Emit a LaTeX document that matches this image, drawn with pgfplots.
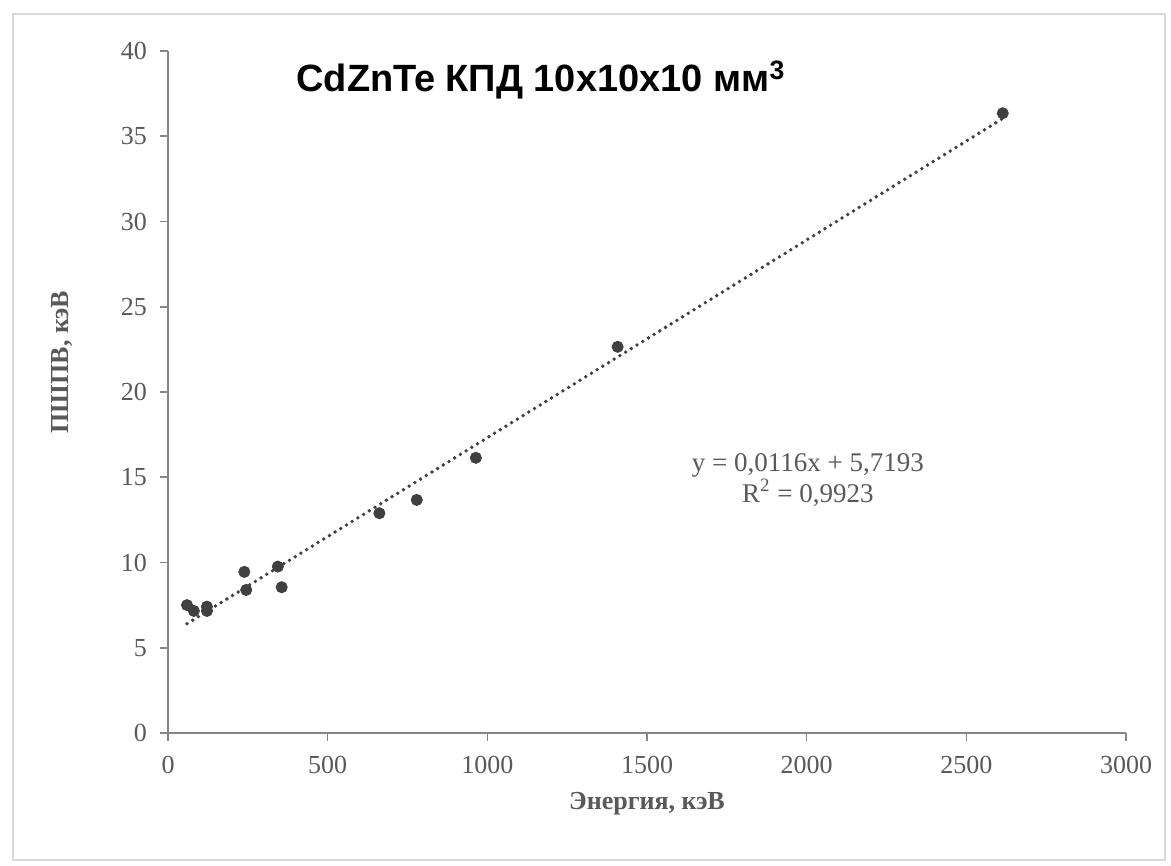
\documentclass[border=0pt]{standalone}
\usepackage{fontspec}
\setmainfont{Liberation Serif}
\newfontfamily\arialfont{Liberation Sans}
\usepackage{pgfplots}
\pgfplotsset{compat=1.18}
\definecolor{mk}{HTML}{404040}
\definecolor{ax}{HTML}{868686}
\definecolor{tl}{HTML}{595959}
\definecolor{fr}{HTML}{D9D9D9}
\begin{document}
\begin{tikzpicture}
\useasboundingbox (0,0) rectangle (585.5pt,433pt);
\fill[white] (0,0) rectangle (585.5pt,433pt);
\draw[fr, line width=1pt] (6.5pt,3pt) rectangle (582.5pt,426pt);
\begin{axis}[
  scale only axis,
  width=479pt, height=341pt,
  at={(84pt,66.5pt)}, anchor=south west,
  xmin=0, xmax=3000, ymin=0, ymax=40,
  xtick={0,500,...,3000}, ytick={0,5,...,40},
  axis x line*=bottom, axis y line*=left,
  axis line style={ax, line width=0.8pt},
  tick style={ax, line width=0.8pt},
  tick align=outside, major tick length=4pt,
  /pgf/number format/assume math mode=true,
  /pgf/number format/1000 sep={},
  tick label style={font=\fontsize{13}{15}\selectfont, text=tl},
  xticklabel style={yshift=-4pt},
  yticklabel style={xshift=-3pt},
  xlabel={\textbf{Энергия, кэВ}},
  ylabel={\textbf{ПШПВ, кэВ}},
  label style={font=\fontsize{13}{15}\selectfont, text=tl},
  xlabel style={at={(axis description cs:0.5,-0.104)}, anchor=center},
  ylabel style={at={(axis description cs:-0.1106,0.544)}, anchor=center},
  clip=false,
]
\addplot[mk, line width=1.9pt, line cap=round, dash pattern=on 0pt off 3.35pt] coordinates {(59.5,6.41) (2614,36.04)};
\addplot[only marks, mark=*, mark size=2.8pt, mark options={fill=mk, draw=mk}] coordinates {
(59.5,7.5) (81,7.16) (121.8,7.41) (122,7.16) (239,9.45) (245,8.39)
(344,9.76) (356,8.55) (662,12.89) (779,13.67) (964,16.14) (1408,22.65) (2614,36.35)};
\node[font=\arialfont\bfseries\fontsize{19}{21}\selectfont, text=black] at (axis cs:1168,38.3) {CdZnTe КПД 10x10x10 мм\textsuperscript{3}};
\node[font=\fontsize{13.5}{15.5}\selectfont, text=tl, align=center] at (axis cs:2004,14.85) {y = 0,0116x + 5,7193\\R\textsuperscript{2} = 0,9923};
\end{axis}
\end{tikzpicture}
\end{document}
